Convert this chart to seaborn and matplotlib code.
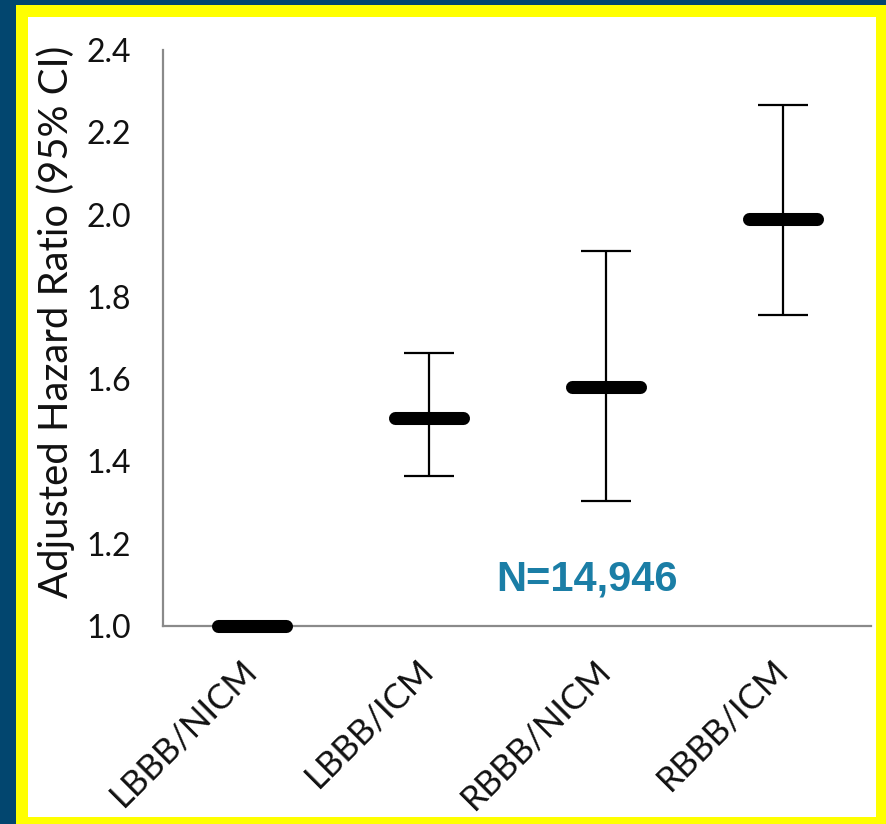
import matplotlib
matplotlib.use("Agg")
import matplotlib.pyplot as plt
from matplotlib.patches import Rectangle
from matplotlib.ticker import FixedLocator
import seaborn as sns
import pandas as pd
import numpy as np

categories = ["LBBB/NICM", "LBBB/ICM", "RBBB/NICM", "RBBB/ICM"]
hazard_ratio = [1.00, 1.505, 1.58, 1.99]
ci_lower = [1.00, 1.365, 1.305, 1.755]
ci_upper = [1.00, 1.663, 1.912, 2.266]
y_ticks = [1.0, 1.2, 1.4, 1.6, 1.8, 2.0, 2.2, 2.4]
annotation = "N=14,946"
y_label = "Adjusted Hazard Ratio (95% CI)"

sns.set_style("white")
plt.rcParams["font.family"] = ["Lato", "DejaVu Sans"]

W, H = 886, 824
fig = plt.figure(figsize=(W / 100, H / 100), dpi=100)
fig.patch.set_facecolor("#02466f")
fig.patches.append(Rectangle((16 / W, 0), 870 / W, (H - 5) / H, transform=fig.transFigure,
                             facecolor="#ffff00", edgecolor="none", zorder=-2))
fig.patches.append(Rectangle((28 / W, 7 / H), 848 / W, 800 / H, transform=fig.transFigure,
                             facecolor="white", edgecolor="none", zorder=-1))

ax = fig.add_axes([163 / W, (H - 626) / H, 708 / W, 576 / H])
ax.set_facecolor("none")

df = pd.DataFrame({"category": categories, "hr": hazard_ratio,
                   "lo": ci_lower, "hi": ci_upper})

pos = np.arange(len(categories))
has_ci = (df["hi"] > df["lo"]).to_numpy()
ax.errorbar(pos[has_ci], df["hr"][has_ci],
            yerr=[(df["hr"] - df["lo"])[has_ci], (df["hi"] - df["hr"])[has_ci]],
            fmt="none", ecolor="black", elinewidth=1.6, capsize=18, capthick=1.6, zorder=3)

sns.scatterplot(data=df, x="category", y="hr", ax=ax, marker="_", s=49.5 ** 2,
                linewidth=9.4, color="black", edgecolor="black", zorder=5, clip_on=False,
                capstyle="round", legend=False)

ax.set_xlim(-0.5, len(categories) - 0.5)
ax.set_ylim(1.0, 2.4)
ax.set_yticks(y_ticks)
ax.set_yticklabels([f"{t:.1f}" for t in y_ticks], fontsize=23, color="#111111")
ax.set_xticks(pos)
ax.set_xticklabels(categories, fontsize=25, rotation=45, ha="right", va="center",
                   rotation_mode="anchor", color="#111111")
ax.xaxis.set_minor_locator(FixedLocator(np.arange(-0.5, len(categories), 1.0)))
ax.tick_params(axis="x", which="major", length=0, pad=28)
ax.tick_params(axis="x", which="minor", length=9.5, width=1.5, color="#8a8a8a", direction="out")
ax.tick_params(axis="y", which="major", length=8, width=1.5, color="#8a8a8a", direction="out",
               pad=15)
ax.set_xlabel("")
ax.set_ylabel(y_label, fontsize=28.8, color="#111111")
ax.yaxis.set_label_coords(-0.124, 0.528)

for s in ["top", "right"]:
    ax.spines[s].set_visible(False)
for s in ["left", "bottom"]:
    ax.spines[s].set_color("#8a8a8a")
    ax.spines[s].set_linewidth(1.6)

ax.text(1.898, 1.112, annotation, fontsize=30, fontweight="bold", color="#1b7ea6",
        family=["Liberation Sans", "DejaVu Sans"], ha="center", va="center")

fig.savefig("out.png", dpi=100, facecolor=fig.get_facecolor())
